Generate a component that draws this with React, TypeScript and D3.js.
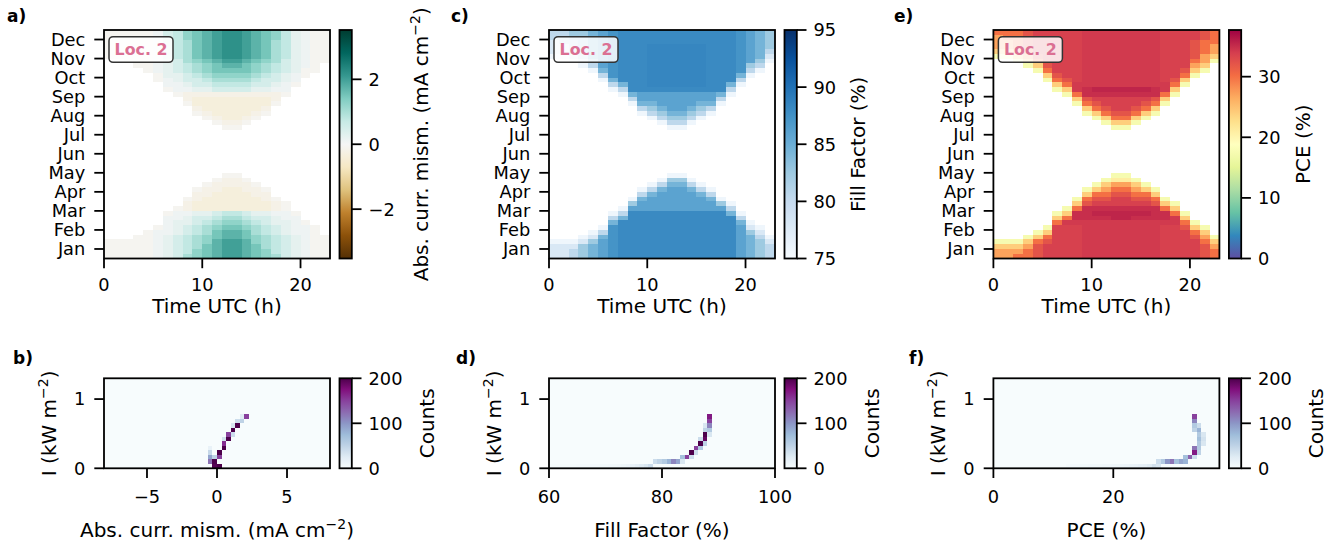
import React from 'react';
import * as d3 from 'd3';

// ---------- axis categories ----------
const MONTHS = ['Jan', 'Feb', 'Mar', 'Apr', 'May', 'Jun', 'Jul', 'Aug', 'Sep', 'Oct', 'Nov', 'Dec'];
const HOUR_TICKS = [0, 10, 20];
const N_HOURS = 23; // hourly columns, 0 h .. 23 h
const STEPS_PER_YEAR = 48; // quarter-month rows

// ---------- heat map data ----------
// One string per hour column. "EARLY" strings run upward from 1 Jan,
// "LATE" strings run upward to 31 Dec; each character is one quarter-month.
// Hours/seasons with no sun carry no value.

// absolute current mismatch (mA cm^-2)
const MISMATCH_LEVELS: Record<string, number> = {
  n: -0.35, m: -0.2, z: -0.07, '0': 0.1, '1': 0.25, '2': 0.5, '3': 0.75,
  '4': 1.0, '5': 1.25, '6': 1.5, '7': 1.75, '8': 2.0, '9': 2.2,
};
const MISMATCH_EARLY = [
  'zzzz', 'zzzz', 'zzzz', 'zzzzz', 'zzzzzz', '000000z', '111110000z', '2222211100z',
  '4333322110mmz', '5544433221nnmmz', '6665544321nnnmmz', '7777665432nnnnmmz',
  '8888776543nnnnnmmz', '8888776543nnnnnmmz', '7777665432nnnnmmz', '6665544321nnnmmz',
  '5544433221nnmmz', '4333322110mmz', '2222211100zz', '111110000z', '0000000z', 'zzzzzzz', 'zzzzz',
];
const MISMATCH_LATE = [
  'zzzzzz', 'zzzzzz', 'zzzzzzz', 'zzzzzzzz', 'zzzzzzzzz', 'zz000000000', 'z001111222222',
  'z0011222333333', 'zmm0122334444455', 'zmnnm1223445666666', 'zmnnnm1234556777777',
  'zmnnnnm2345667888888', 'zmnnnnnm2345678999999', 'zmnnnnnm2345678999999',
  'zmnnnnm2345667888888', 'zmnnnm1234556777777', 'zmnnm1223445666666', 'zmm0122334444455',
  'z0011222333333', 'z00111111111', 'zz00000000', 'zzzzzzzzz', 'zzzzzzz',
];

// fill factor (%)
const FF_LEVELS: Record<string, number> = {
  a: 75.8, b: 78, c: 80.5, d: 82.5, e: 84.5, f: 86, g: 87.3, h: 88.1, i: 88.4,
};
const FF_EARLY = [
  'bbba', 'bbba', 'ccba', 'dddba', 'eeedba', 'ffffeca', 'gggggggeca', 'hhhhhhhheca',
  'hhhhhhhhhhfda', 'hhhhhhhhhhffeca', 'hhhhhhhhhhfffeca', 'hhhhhhhhhhffffeca',
  'hhhhhhhhhhfffffeda', 'hhhhhhhhhhfffffeda', 'hhhhhhhhhhffffeca', 'hhhhhhhhhhfffeca',
  'hhhhhhhhhhffeca', 'hhhhhhhhhhfda', 'hhhhhhhhheca', 'fffffffeca', 'eeeeedba', 'ddddcba', 'cccba',
];
const FF_LATE = [
  'abbbcc', 'abbccc', 'abcccdd', 'abcddddd', 'acdeeeeee', 'aceffffffff', 'acegggggggggg',
  'acehhhhhhhhhhh', 'acehhhhhhhhhhhhh', 'aceffhhhhhhhhhhhhh', 'acdeffhiiiiiiiiihhh',
  'acdefffhiiiiiiiiihhh', 'acdeffffhiiiiiiiiihhh', 'acdeffffhiiiiiiiiihhh',
  'acdefffhiiiiiiiiihhh', 'acdeffhiiiiiiiiihhh', 'aceffhhhhhhhhhhhhh', 'acehhhhhhhhhhhhh',
  'acehhhhhhhhhhh', 'aceggggggggg', 'acdfffffff', 'acdeeeeee', 'abcdddd',
];

// power conversion efficiency (%)
const PCE_LEVELS: Record<string, number> = {
  a: 17.5, b: 21, c: 24, d: 27, e: 30, f: 32.2, g: 33.7, h: 34.2, i: 34.9, j: 35.5,
};
const PCE_EARLY = [
  'ddca', 'ddca', 'edca', 'eedca', 'fffeca', 'gggfeca', 'gggggggeca', 'gggggggheca',
  'ggggggghiieca', 'hhhhhhhhiiifeca', 'hhhhhhhhijigfeca', 'hhhhhhhhijigfedca',
  'hhhhhhhhjjiggfedba', 'hhhhhhhhjjiggfedba', 'hhhhhhhhijigfedca', 'hhhhhhhhijigfeca',
  'hhhhhhhhiiifeca', 'ggggggghiieca', 'ggggggghheca', 'ggggggfeca', 'ggggfeca', 'fffedca', 'eedca',
];
const PCE_LATE = [
  'acddde', 'acddee', 'acdeeee', 'acdeffff', 'acefggggg', 'acefggggggg', 'acefggggggggg',
  'acefgggggggggg', 'acehhggggggggggg', 'acefiihhhhhhhhhhhh', 'acefgijhhhhhhhhhhhh',
  'acefggijhhhhhhhhhhhh', 'acefgggijhhhhhhhhhhhh', 'acefgggijhhhhhhhhhhhh',
  'acefggijhhhhhhhhhhhh', 'acefgijhhhhhhhhhhhh', 'acefiihhhhhhhhhhhh', 'acehhggggggggggg',
  'acefgggggggggg', 'acefgggggggg', 'acdeffffgg', 'acddeeeff', 'acddeee',
];

// ---------- 2-D histogram data: [x bin, irradiance bin, counts] ----------
const X_BINS = 50;
const I_BIN = 0.065; // kW m^-2
const HIST_MISMATCH: [number, number, number][] = [
  [24, 0, 195], [25, 0, 200], [24, 1, 200], [23, 1, 120], [25, 2, 150], [24, 2, 50], [23, 2, 90],
  [25, 3, 200], [23, 3, 45], [26, 4, 200], [23, 4, 15], [26, 5, 160], [27, 6, 200], [26, 6, 35],
  [27, 7, 150], [28, 7, 40], [28, 8, 200], [29, 9, 200], [28, 9, 30], [30, 10, 50], [29, 10, 40],
  [31, 11, 150], [30, 11, 25],
];
const HIST_FF: [number, number, number][] = [
  [35, 11, 170], [35, 10, 150], [35, 9, 110], [34, 9, 30], [35, 8, 60], [34, 8, 50], [34, 7, 200],
  [35, 7, 30], [34, 6, 190], [33, 6, 40], [33, 5, 200], [34, 5, 50], [32, 4, 150], [33, 4, 60],
  [31, 3, 200], [32, 3, 40], [30, 2, 150], [29, 2, 70], [31, 2, 40], [28, 1, 90], [27, 1, 110],
  [26, 1, 80], [25, 1, 60], [24, 1, 50], [23, 1, 40], [29, 1, 30], [22, 0, 40], [21, 0, 30],
  [20, 0, 25], [19, 0, 20], [18, 0, 15], [17, 0, 12], [16, 0, 10], [15, 0, 8], [14, 0, 7],
  [13, 0, 6], [12, 0, 5], [11, 0, 5], [10, 0, 4], [9, 0, 4], [8, 0, 3], [7, 0, 3], [6, 0, 3],
  [5, 0, 2], [4, 0, 2], [3, 0, 2], [2, 0, 2], [1, 0, 2], [0, 0, 2],
];
const HIST_PCE: [number, number, number][] = [
  [44, 11, 150], [44, 10, 110], [44, 9, 60], [45, 9, 40], [44, 8, 50], [45, 8, 80], [45, 7, 60],
  [46, 7, 30], [45, 6, 70], [46, 6, 35], [45, 5, 60], [46, 5, 30], [44, 4, 120], [45, 4, 60],
  [44, 3, 170], [45, 3, 50], [43, 2, 130], [44, 2, 40], [42, 2, 70], [42, 1, 80], [41, 1, 90],
  [40, 1, 70], [39, 1, 120], [38, 1, 100], [37, 1, 60], [36, 1, 40], [36, 0, 30], [35, 0, 35],
  [34, 0, 25], [33, 0, 20], [32, 0, 18], [31, 0, 15], [30, 0, 14], [29, 0, 12], [28, 0, 11],
  [27, 0, 10], [26, 0, 9], [25, 0, 8], [24, 0, 8], [23, 0, 7], [22, 0, 6], [21, 0, 6], [20, 0, 5],
  [19, 0, 5], [18, 0, 4], [17, 0, 4], [16, 0, 3],
];

// ---------- layout ----------
const W = 1344;
const H = 547;
const PLOT_W = 226;
const PANEL_LEFT = [104, 549, 993.4];
const HEAT_TOP = 30;
const HEAT_BOTTOM = 258.5;
const HIST_TOP = 378.3;
const HIST_BOTTOM = 468.3;
const CBAR_GAP = 9.5;
const CBAR_W = 12.3;
const TICK = 9.7;
const FONT = 'DejaVu Sans, Verdana, sans-serif';
const TICK_FS = 17.8;
const LABEL_FS = 20;
const SPINE = 1.8;

// ---------- colour maps (piecewise-linear ColorBrewer ramps) ----------
const rampBrBG = d3.piecewise(d3.interpolateRgb, d3.schemeBrBG[11] as string[]);
const rampBlues = d3.piecewise(d3.interpolateRgb, d3.schemeBlues[9] as string[]);
const rampSpectralR = d3.piecewise(d3.interpolateRgb, (d3.schemeSpectral[11] as string[]).slice().reverse());
const rampBuPu = d3.piecewise(d3.interpolateRgb, d3.schemeBuPu[9] as string[]);

type Ramp = (t: number) => string;
const colorScale = (ramp: Ramp, lo: number, hi: number) => {
  const s = d3.scaleLinear().domain([lo, hi]).range([0, 1]).clamp(true);
  return (v: number) => ramp(s(v));
};

const MISMATCH_RANGE: [number, number] = [-3.52, 3.52];
const FF_RANGE: [number, number] = [75, 95];
const PCE_RANGE: [number, number] = [0, 37.7];
const COUNT_RANGE: [number, number] = [0, 200];

const fmt = (v: number) => (v < 0 ? '\u2212' + Math.abs(v) : String(v));

// ---------- pieces ----------
function Colorbar({ x, top, bottom, ramp, domain, ticks, id, label, labelOffset }: {
  x: number; top: number; bottom: number; ramp: Ramp; domain: [number, number]; ticks: number[];
  id: string; label: React.ReactNode; labelOffset: number;
}) {
  const ys = d3.scaleLinear().domain(domain).range([bottom, top]);
  const stops = d3.range(0, 1.0001, 1 / 40);
  const right = x + CBAR_W;
  return (
    <g>
      <defs>
        <linearGradient id={id} x1="0" y1="1" x2="0" y2="0">
          {stops.map((t) => <stop key={t} offset={t} stopColor={ramp(t)} />)}
        </linearGradient>
      </defs>
      <rect x={x} y={top} width={CBAR_W} height={bottom - top} fill={`url(#${id})`} />
      <rect x={x} y={top} width={CBAR_W} height={bottom - top} fill="none" stroke="#000" strokeWidth={SPINE} />
      {ticks.map((t) => (
        <g key={t}>
          <line x1={right} x2={right + TICK} y1={ys(t)} y2={ys(t)} stroke="#000" strokeWidth={SPINE} />
          <text x={right + TICK + 7} y={ys(t)} dy="0.36em" fontSize={TICK_FS}>{fmt(t)}</text>
        </g>
      ))}
      <text transform={`translate(${right + labelOffset},${(top + bottom) / 2}) rotate(-90)`}
        textAnchor="middle" fontSize={LABEL_FS}>{label}</text>
    </g>
  );
}

function LocBox({ x0 }: { x0: number }) {
  const bx = x0 + 5;
  const by = 36.7;
  return (
    <g>
      <rect x={bx} y={by} width={64} height={25.6} rx={4} fill="#fff" fillOpacity={0.85}
        stroke="#333" strokeWidth={1.5} />
      <text x={bx + 32} y={by + 12.8} dy="0.36em" textAnchor="middle" fontSize={15.8}
        fontWeight="bold" fill="#db7093">Loc. 2</text>
    </g>
  );
}

function HeatPanel({ col, early, late, levels, color }: {
  col: number; early: string[]; late: string[]; levels: Record<string, number>; color: (v: number) => string;
}) {
  const x0 = PANEL_LEFT[col];
  const xs = d3.scaleLinear().domain([0, N_HOURS]).range([x0, x0 + PLOT_W]);
  const ys = d3.scaleLinear().domain([0, 12]).range([HEAT_BOTTOM, HEAT_TOP]);
  const step = 12 / STEPS_PER_YEAR;
  const cells: { h: number; r: number; v: number }[] = [];
  early.forEach((s, h) => {
    for (let i = 0; i < s.length; i++) cells.push({ h, r: i, v: levels[s[i]] });
  });
  late.forEach((s, h) => {
    const start = STEPS_PER_YEAR - s.length;
    for (let i = 0; i < s.length; i++) cells.push({ h, r: start + i, v: levels[s[i]] });
  });
  return (
    <g>
      <g shapeRendering="crispEdges">
        {cells.map((c, k) => (
          <rect key={k} x={xs(c.h)} y={ys((c.r + 1) * step)} width={xs(c.h + 1) - xs(c.h)}
            height={ys(c.r * step) - ys((c.r + 1) * step)} fill={color(c.v)} />
        ))}
      </g>
      <rect x={x0} y={HEAT_TOP} width={PLOT_W} height={HEAT_BOTTOM - HEAT_TOP} fill="none"
        stroke="#000" strokeWidth={SPINE} />
      {MONTHS.map((m, i) => {
        const y = ys(i + 0.5);
        return (
          <g key={m}>
            <line x1={x0 - TICK} x2={x0} y1={y} y2={y} stroke="#000" strokeWidth={SPINE} />
            <text x={x0 - TICK - 9} y={y} dy="0.36em" textAnchor="end" fontSize={TICK_FS}>{m}</text>
          </g>
        );
      })}
      {HOUR_TICKS.map((t) => (
        <g key={t}>
          <line x1={xs(t)} x2={xs(t)} y1={HEAT_BOTTOM} y2={HEAT_BOTTOM + TICK} stroke="#000" strokeWidth={SPINE} />
          <text x={xs(t)} y={290.5} textAnchor="middle" fontSize={TICK_FS}>{t}</text>
        </g>
      ))}
      <text x={x0 + PLOT_W / 2} y={313.3} textAnchor="middle" fontSize={LABEL_FS}>Time UTC (h)</text>
      <LocBox x0={x0} />
    </g>
  );
}

const countColor = colorScale(rampBuPu, COUNT_RANGE[0], COUNT_RANGE[1]);

function HistPanel({ col, domain, cells, ticks, label }: {
  col: number; domain: [number, number]; cells: [number, number, number][]; ticks: number[];
  label: React.ReactNode;
}) {
  const x0 = PANEL_LEFT[col];
  const xs = d3.scaleLinear().domain(domain).range([x0, x0 + PLOT_W]);
  const ys = d3.scaleLinear().domain([0, 1.3]).range([HIST_BOTTOM, HIST_TOP]);
  const dx = (domain[1] - domain[0]) / X_BINS;
  return (
    <g>
      <rect x={x0} y={HIST_TOP} width={PLOT_W} height={HIST_BOTTOM - HIST_TOP} fill={countColor(0)} />
      <g shapeRendering="crispEdges">
        {cells.map(([ix, iy, n], k) => {
          const xa = domain[0] + ix * dx;
          return (
            <rect key={k} x={xs(xa)} y={ys((iy + 1) * I_BIN)} width={xs(xa + dx) - xs(xa)}
              height={ys(iy * I_BIN) - ys((iy + 1) * I_BIN)} fill={countColor(n)} />
          );
        })}
      </g>
      <rect x={x0} y={HIST_TOP} width={PLOT_W} height={HIST_BOTTOM - HIST_TOP} fill="none"
        stroke="#000" strokeWidth={SPINE} />
      {[0, 1].map((t) => (
        <g key={t}>
          <line x1={x0 - TICK} x2={x0} y1={ys(t)} y2={ys(t)} stroke="#000" strokeWidth={SPINE} />
          <text x={x0 - TICK - 9} y={ys(t)} dy="0.36em" textAnchor="end" fontSize={TICK_FS}>{t}</text>
        </g>
      ))}
      {ticks.map((t) => (
        <g key={t}>
          <line x1={xs(t)} x2={xs(t)} y1={HIST_BOTTOM} y2={HIST_BOTTOM + TICK} stroke="#000" strokeWidth={SPINE} />
          <text x={xs(t)} y={503.3} textAnchor="middle" fontSize={TICK_FS}>{fmt(t)}</text>
        </g>
      ))}
      <text x={x0 + PLOT_W / 2} y={536.5} textAnchor="middle" fontSize={LABEL_FS}>{label}</text>
      <text transform={`translate(${x0 - 48},${(HIST_TOP + HIST_BOTTOM) / 2}) rotate(-90)`}
        textAnchor="middle" fontSize={LABEL_FS}>
        I (kW m<tspan dy={-8} fontSize={14}>{'\u22122'}</tspan><tspan dy={8}>)</tspan>
      </text>
      <Colorbar x={x0 + PLOT_W + CBAR_GAP} top={HIST_TOP} bottom={HIST_BOTTOM} ramp={rampBuPu}
        domain={COUNT_RANGE} ticks={[0, 100, 200]} id={`cnt${col}`} label="Counts" labelOffset={82} />
    </g>
  );
}

const unitMismatch = (
  <>Abs. curr. mism. (mA cm<tspan dy={-8} fontSize={14}>{'\u22122'}</tspan><tspan dy={8}>)</tspan></>
);

const PANEL_TAGS = [
  { t: 'a)', x: 7, y: 21.5 }, { t: 'c)', x: 451, y: 21.5 }, { t: 'e)', x: 894, y: 21.5 },
  { t: 'b)', x: 13, y: 363.5 }, { t: 'd)', x: 456, y: 363.5 }, { t: 'f)', x: 909, y: 363.5 },
];

export default function App() {
  const mismatchColor = colorScale(rampBrBG, MISMATCH_RANGE[0], MISMATCH_RANGE[1]);
  const ffColor = colorScale(rampBlues, FF_RANGE[0], FF_RANGE[1]);
  const pceColor = colorScale(rampSpectralR, PCE_RANGE[0], PCE_RANGE[1]);
  const cbx = (col: number) => PANEL_LEFT[col] + PLOT_W + CBAR_GAP;
  return (
    <svg width={W} height={H} viewBox={`0 0 ${W} ${H}`} fontFamily={FONT}
      style={{ position: 'absolute', left: 0, top: 0, background: '#fff' }}>
      <rect width={W} height={H} fill="#fff" />

      <HeatPanel col={0} early={MISMATCH_EARLY} late={MISMATCH_LATE} levels={MISMATCH_LEVELS} color={mismatchColor} />
      <Colorbar x={cbx(0)} top={HEAT_TOP} bottom={HEAT_BOTTOM} ramp={rampBrBG} domain={MISMATCH_RANGE}
        ticks={[-2, 0, 2]} id="cbMis" label={unitMismatch} labelOffset={76.5} />

      <HeatPanel col={1} early={FF_EARLY} late={FF_LATE} levels={FF_LEVELS} color={ffColor} />
      <Colorbar x={cbx(1)} top={HEAT_TOP} bottom={HEAT_BOTTOM} ramp={rampBlues} domain={FF_RANGE}
        ticks={[75, 80, 85, 90, 95]} id="cbFF" label="Fill Factor (%)" labelOffset={68.5} />

      <HeatPanel col={2} early={PCE_EARLY} late={PCE_LATE} levels={PCE_LEVELS} color={pceColor} />
      <Colorbar x={cbx(2)} top={HEAT_TOP} bottom={HEAT_BOTTOM} ramp={rampSpectralR} domain={PCE_RANGE}
        ticks={[0, 10, 20, 30]} id="cbPCE" label="PCE (%)" labelOffset={69} />

      <HistPanel col={0} domain={[-8.07, 8.07]} cells={HIST_MISMATCH} ticks={[-5, 0, 5]} label={unitMismatch} />
      <HistPanel col={1} domain={[60, 100]} cells={HIST_FF} ticks={[60, 80, 100]} label="Fill Factor (%)" />
      <HistPanel col={2} domain={[0, 37.7]} cells={HIST_PCE} ticks={[0, 20]} label="PCE (%)" />

      {PANEL_TAGS.map((p) => (
        <text key={p.t} x={p.x} y={p.y} fontSize={17} fontWeight="bold">{p.t}</text>
      ))}
    </svg>
  );
}
